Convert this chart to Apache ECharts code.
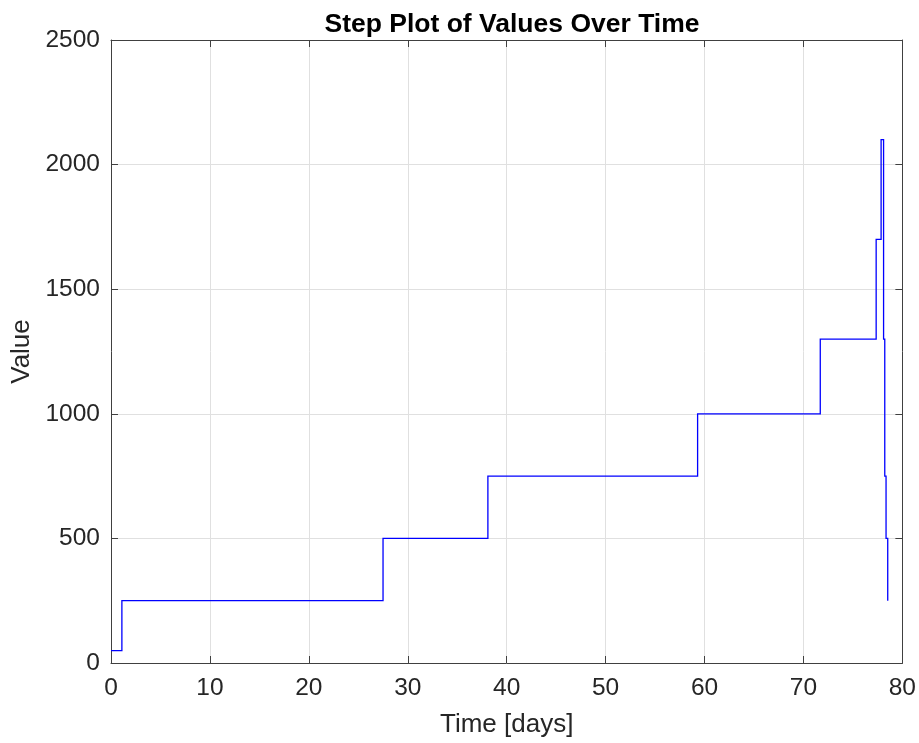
<!DOCTYPE html>
<html>
<head>
<meta charset="utf-8">
<script src="https://cdn.jsdelivr.net/npm/echarts@6/dist/echarts.min.js"></script>
<style>
html,body{margin:0;padding:0;background:#fff;}
#chart{width:919px;height:743px;}
</style>
</head>
<body>
<div id="chart"></div>
<script>
// Step times (days) and the value held from each time until the next one
const timeDays = [0, 1.1, 27.5, 38.1, 59.3, 71.7, 77.35, 77.85, 78.1, 78.22, 78.35, 78.52];
const values   = [50, 250, 500, 750, 1000, 1300, 1700, 2100, 1300, 750, 500, 250];
const xTicks = [0, 10, 20, 30, 40, 50, 60, 70, 80];
const yTicks = [0, 500, 1000, 1500, 2000, 2500];

const font = 'Liberation Sans, Arial, Helvetica, sans-serif';
const txt = '#262626';
const boxColor = '#404040';
const axisLine = {show: true, onZero: false, lineStyle: {color: boxColor, width: 1}};
const tickIn = {show: true, inside: true, length: 7, lineStyle: {color: boxColor}};
const gridLine = {show: true, lineStyle: {color: '#e0e0e0', width: 1}};

// Stairs: hold each value until the next time, then jump (like MATLAB stairs).
// Drawn as one polyline so that sub-pixel treads near the end are kept.
function renderStairs(params, api) {
  if (params.dataIndex !== 0) return null;
  const pts = [];
  for (let i = 0; i < timeDays.length; i++) {
    pts.push(api.coord([timeDays[i], values[i]]));
    if (i + 1 < timeDays.length) {
      pts.push(api.coord([timeDays[i + 1], values[i]]));
    }
  }
  return {
    type: 'polyline',
    shape: {points: pts},
    style: {stroke: '#0000ff', lineWidth: 1.3, fill: null, lineJoin: 'miter'},
    silent: true
  };
}

const chart = echarts.init(document.getElementById('chart'), null, {renderer: 'canvas'});
chart.setOption({
  animation: false,
  backgroundColor: '#fff',
  title: {
    text: 'Step Plot of Values Over Time',
    left: 507, top: 6, textAlign: 'center',
    textStyle: {fontFamily: font, fontSize: 26.5, fontWeight: 'bold', color: '#000'}
  },
  grid: {left: 111, right: 16, top: 40, bottom: 78, containLabel: false},
  xAxis: [{
    type: 'value', min: xTicks[0], max: xTicks[xTicks.length - 1], interval: 10,
    name: 'Time [days]', nameLocation: 'middle', nameGap: 49,
    nameTextStyle: {fontFamily: font, fontSize: 26, color: txt},
    axisLine: axisLine, axisTick: tickIn,
    axisLabel: {fontFamily: font, fontSize: 24.5, color: txt, margin: 13},
    splitLine: gridLine
  }, {
    type: 'value', position: 'top', min: xTicks[0], max: xTicks[xTicks.length - 1], interval: 10,
    axisLine: axisLine, axisTick: tickIn, axisLabel: {show: false}, splitLine: {show: false}
  }],
  yAxis: [{
    type: 'value', min: yTicks[0], max: yTicks[yTicks.length - 1], interval: 500,
    name: 'Value', nameLocation: 'middle', nameGap: 71, nameRotate: 90,
    nameTextStyle: {fontFamily: font, fontSize: 26, color: txt},
    axisLine: axisLine, axisTick: tickIn,
    axisLabel: {fontFamily: font, fontSize: 24.5, color: txt, margin: 11,
                formatter: v => String(v)},
    splitLine: gridLine
  }, {
    type: 'value', position: 'right', min: yTicks[0], max: yTicks[yTicks.length - 1], interval: 500,
    axisLine: axisLine, axisTick: tickIn, axisLabel: {show: false}, splitLine: {show: false}
  }],
  series: [{
    type: 'custom',
    renderItem: renderStairs,
    data: timeDays.map((t, i) => [t, values[i]]),
    encode: {x: 0, y: 1},
    clip: false
  }]
});
</script>
</body>
</html>
